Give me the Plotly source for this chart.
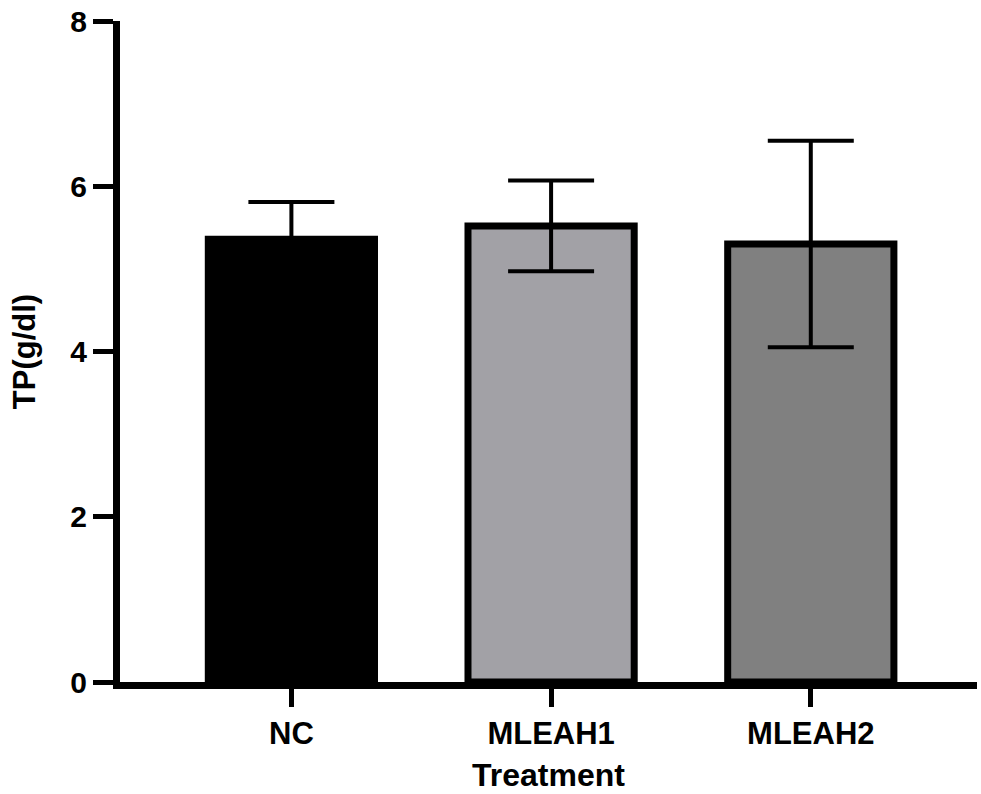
import plotly.graph_objects as go

categories = ["NC", "MLEAH1", "MLEAH2"]
tp_means = [5.36, 5.52, 5.30]
tp_errors = [0.45, 0.55, 1.25]
bar_colors = ["#000000", "#a2a1a6", "#808080"]
y_ticks = [0, 2, 4, 6, 8]

fig = go.Figure()
fig.add_trace(go.Bar(
    x=list(range(len(categories))),
    y=tp_means,
    width=0.64,
    marker=dict(color=bar_colors, line=dict(color="#000000", width=7)),
    error_y=dict(type="data", array=tp_errors, visible=True,
                 color="#000000", thickness=4, width=43),
    showlegend=False,
))

font_family = "Liberation Sans, Arial, sans-serif"
fig.update_layout(
    width=981, height=794,
    margin=dict(l=120, r=4, t=20, b=106),
    plot_bgcolor="white", paper_bgcolor="white",
    font=dict(family=font_family, color="#000000", size=28, weight="bold"),
    xaxis=dict(
        range=[-0.66, 2.64],
        tickmode="array",
        tickvals=list(range(len(categories))),
        ticktext=categories,
        showline=True, linewidth=7, linecolor="#000000",
        ticks="outside", ticklen=18, tickwidth=5, tickcolor="#000000",
        tickfont=dict(family=font_family, size=31, weight="bold"),
        showgrid=False, zeroline=False,
        title=dict(text="Treatment", font=dict(family=font_family, size=32, weight="bold"), standoff=16),
    ),
    yaxis=dict(
        range=[0, 8],
        tickmode="array",
        tickvals=y_ticks,
        ticktext=[str(v) for v in y_ticks],
        showline=True, linewidth=7, linecolor="#000000",
        ticks="outside", ticklen=20, tickwidth=5, tickcolor="#000000",
        tickfont=dict(family=font_family, size=30, weight="bold"),
        showgrid=False, zeroline=False,
        title=dict(text="TP(g/dl)", font=dict(family=font_family, size=31, weight="bold"), standoff=28),
    ),
)

fig.write_html("out.html", config={"displayModeBar": False},
               post_script="document.body.style.margin='0';")
